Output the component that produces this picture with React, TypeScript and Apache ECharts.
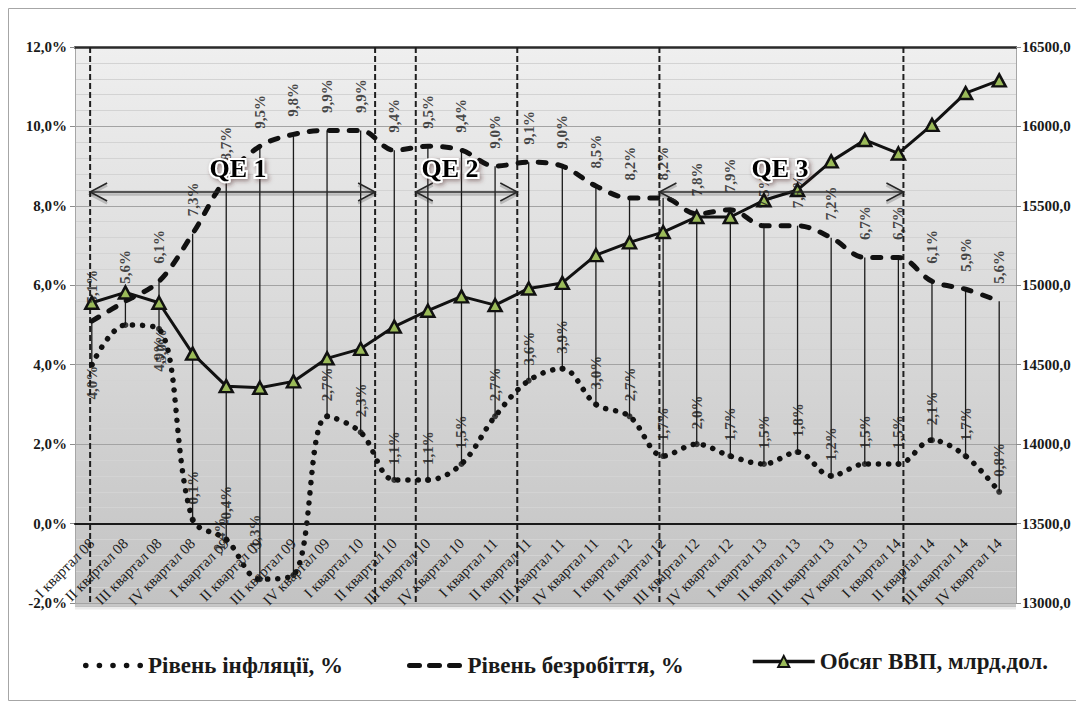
import React, { useEffect, useRef } from 'react';
import * as echarts from 'echarts';

const categories = [
  'I квартал 08', 'II квартал 08', 'III квартал 08', 'IV квартал 08',
  'I квартал 09', 'II квартал 09', 'III квартал 09', 'IV квартал 09',
  'I квартал 10', 'II квартал 10', 'III квартал 10', 'IV квартал 10',
  'I квартал 11', 'II квартал 11', 'III квартал 11', 'IV квартал 11',
  'I квартал 12', 'II квартал 12', 'III квартал 12', 'IV квартал 12',
  'I квартал 13', 'II квартал 13', 'III квартал 13', 'IV квартал 13',
  'I квартал 14', 'II квартал 14', 'III квартал 14', 'IV квартал 14',
];

const inflation = [4.0, 5.0, 4.9, 0.1, -0.4, -1.4, -1.3, 2.7, 2.3, 1.1, 1.1, 1.5, 2.7, 3.6, 3.9, 3.0, 2.7, 1.7, 2.0, 1.7, 1.5, 1.8, 1.2, 1.5, 1.5, 2.1, 1.7, 0.8];
const unemployment = [5.1, 5.6, 6.1, 7.3, 8.7, 9.5, 9.8, 9.9, 9.9, 9.4, 9.5, 9.4, 9.0, 9.1, 9.0, 8.5, 8.2, 8.2, 7.8, 7.9, 7.5, 7.5, 7.2, 6.7, 6.7, 6.1, 5.9, 5.6];
const gdp = [14890, 14955, 14890, 14570, 14365, 14355, 14395, 14540, 14600, 14740, 14840, 14930, 14875, 14980, 15015, 15190, 15270, 15335, 15430, 15430, 15535, 15600, 15780, 15915, 15830, 16010, 16210, 16290];

const seriesNames = ['Рівень інфляції, %', 'Рівень безробіття, %', 'Обсяг ВВП, млрд.дол.'];

// QE programmes (positions in category units along the axis)
const qeNames = ['QE 1', 'QE 2', 'QE 3'];
const qeStart = [0.45, 10.14, 17.39];
const qeEnd = [8.93, 13.16, 24.65];
const qeArrowLevel = 8.35;
const qeLabelX = [4.85, 11.16, 20.98];
const qeLabelLevel = 8.95;

const leftMin = -2, leftMax = 12, leftStep = 2;
const rightMin = 13000, rightMax = 16500, rightStep = 500;

const FONT = 'Liberation Serif';
const BOLD = 'bold';

const fmtPct = (v: number) => v.toFixed(1).replace('.', ',') + '%';
const fmtNum = (v: number) => v.toFixed(1).replace('.', ',');

const dotsIcon = 'path://' + [2.8, 16.4, 30, 43.6, 57.2]
  .map((c) => `M${c - 2.8},3a2.8,2.8 0 1,0 5.6,0a2.8,2.8 0 1,0 -5.6,0Z`).join(' ');
const dashIcon = 'path://M2.5,0h10a2.5,2.5 0 0,1 0,5h-10a2.5,2.5 0 0,1 0,-5Z M22.5,0h10a2.5,2.5 0 0,1 0,5h-10a2.5,2.5 0 0,1 0,-5Z M42.5,0h10a2.5,2.5 0 0,1 0,5h-10a2.5,2.5 0 0,1 0,-5Z';

export default function App() {
  const ref = useRef<HTMLDivElement>(null);

  useEffect(() => {
    if (!ref.current) return;
    const chart = echarts.init(ref.current, undefined, { renderer: 'svg' });

    const below: Record<number, { offset: number[]; distance: number }> = {
      0: { offset: [10, 0], distance: 8 },
      1: { offset: [7, 36], distance: 8 },
      2: { offset: [0, 0], distance: 6 },
    };
    const aboveTweak: Record<number, number[]> = {
      5: [8, -40],
      6: [7, -38],
    };

    const inflationLabelData = inflation.map((v, i) => {
      if (below[i]) {
        return {
          value: v,
          label: { position: 'bottom', align: 'right', distance: below[i].distance, offset: below[i].offset },
        };
      }
      if (aboveTweak[i]) return { value: v, label: { offset: aboveTweak[i] } };
      return { value: v };
    });

    const dataLabel = {
      show: true,
      rotate: 90,
      fontFamily: FONT,
      fontWeight: BOLD,
      fontSize: 15,
      color: '#1a1a1a',
      verticalAlign: 'middle',
    };

    const legendText = { fontFamily: FONT, fontWeight: BOLD, fontSize: 23, color: '#1a1a1a' };

    const qeBoundaries = [...qeStart, ...qeEnd].sort((a, b) => a - b);

    const option: any = {
      animation: false,
      textStyle: { fontFamily: FONT },
      graphic: [
        {
          type: 'rect',
          silent: true,
          shape: { x: 0.5, y: 0.5, width: 1075, height: 692 },
          style: { fill: 'none', stroke: '#a6a6a6', lineWidth: 1 },
        },
      ],
      grid: {
        left: 67,
        right: 68,
        top: 39,
        bottom: 98,
        show: true,
        borderWidth: 0,
        backgroundColor: new echarts.graphic.LinearGradient(0, 0, 0, 1, [
          { offset: 0, color: '#efefef' },
          { offset: 1, color: '#c3c3c3' },
        ]),
      },
      legend: [
        {
          data: [{ name: seriesNames[0], icon: dotsIcon }],
          left: 70, top: 641, itemWidth: 60, itemHeight: 6, itemGap: 0,
          itemStyle: { color: '#111' },
          textStyle: legendText,
        },
        {
          data: [{ name: seriesNames[1], icon: dashIcon }],
          left: 394, top: 641, itemWidth: 56, itemHeight: 5, itemGap: 0,
          itemStyle: { color: '#111' },
          textStyle: legendText,
        },
        {
          data: [seriesNames[2]],
          left: 738, top: 637, itemWidth: 62, itemHeight: 14, itemGap: 0,
          lineStyle: { color: '#111', width: 3.5 },
          textStyle: legendText,
        },
      ],
      xAxis: [
        {
          type: 'category',
          data: categories,
          boundaryGap: true,
          position: 'bottom',
          axisLine: { show: true, lineStyle: { color: '#1a1a1a', width: 2 } },
          axisTick: { show: false },
          axisLabel: {
            interval: 0,
            rotate: 45,
            margin: -62,
            fontFamily: FONT,
            fontSize: 15,
            color: '#1a1a1a',
          },
          splitLine: { show: false },
          z: 10,
        },
        {
          type: 'value',
          min: 0,
          max: categories.length,
          position: 'top',
          axisLine: { show: true, onZero: false, lineStyle: { color: '#2a2a2a', width: 2.5 } },
          axisTick: { show: false },
          axisLabel: { show: false },
          splitLine: { show: false },
        },
      ],
      yAxis: [
        {
          type: 'value',
          min: leftMin,
          max: leftMax,
          interval: leftStep,
          position: 'left',
          axisLine: { show: true, lineStyle: { color: '#a6a6a6', width: 1 } },
          axisTick: { show: true, length: 5, lineStyle: { color: '#8c8c8c' } },
          axisLabel: {
            margin: 8,
            fontFamily: FONT,
            fontWeight: BOLD,
            fontSize: 15,
            color: '#1a1a1a',
            formatter: (v: number) => fmtPct(v),
          },
          splitLine: { show: true, lineStyle: { color: '#a3a3a3', width: 1 } },
          minorTick: { show: false, splitNumber: 5 },
          minorSplitLine: { show: true, lineStyle: { color: '#d3d3d3', width: 1 } },
        },
        {
          type: 'value',
          min: rightMin,
          max: rightMax,
          interval: rightStep,
          position: 'right',
          axisLine: { show: true, lineStyle: { color: '#a6a6a6', width: 1 } },
          axisTick: { show: true, length: 5, lineStyle: { color: '#8c8c8c' } },
          axisLabel: {
            margin: 6,
            fontFamily: FONT,
            fontWeight: BOLD,
            fontSize: 15,
            color: '#1a1a1a',
            formatter: (v: number) => fmtNum(v),
          },
          splitLine: { show: false },
        },
      ],
      series: [
        {
          type: 'custom',
          name: 'axis-shadow',
          xAxisIndex: 1,
          yAxisIndex: 0,
          silent: true,
          z: 0,
          data: [[0, leftMin]],
          renderItem: (params: any, api: any) => {
            const a = api.coord([0, leftMin]);
            const b = api.coord([categories.length, leftMin]);
            return {
              type: 'group',
              children: [
                { type: 'line', shape: { x1: a[0], y1: a[1] + 2.5, x2: b[0], y2: b[1] + 2.5 }, style: { stroke: 'rgba(0,0,0,0.22)', lineWidth: 3 } },
                { type: 'line', shape: { x1: a[0], y1: a[1] + 5, x2: b[0], y2: b[1] + 5 }, style: { stroke: 'rgba(0,0,0,0.08)', lineWidth: 3 } },
              ],
            };
          },
        },
        {
          type: 'custom',
          name: 'qe-bounds',
          xAxisIndex: 1,
          yAxisIndex: 0,
          silent: true,
          z: 1,
          data: qeBoundaries.map((v) => [v, 0]),
          renderItem: (params: any, api: any) => {
            const t = api.coord([api.value(0), leftMax]);
            const b = api.coord([api.value(0), leftMin]);
            return {
              type: 'line',
              shape: { x1: t[0], y1: t[1], x2: b[0], y2: b[1] },
              style: { stroke: '#1f1f1f', lineWidth: 2, lineDash: [6, 3] },
            };
          },
        },
        {
          type: 'custom',
          name: 'hilo',
          xAxisIndex: 0,
          yAxisIndex: 0,
          silent: true,
          z: 2,
          data: categories.map((c, i) => [i, unemployment[i], inflation[i]]),
          renderItem: (params: any, api: any) => {
            const a = api.coord([api.value(0), api.value(1)]);
            const b = api.coord([api.value(0), api.value(2)]);
            return {
              type: 'line',
              shape: { x1: a[0], y1: a[1], x2: b[0], y2: b[1] },
              style: { stroke: '#1a1a1a', lineWidth: 1.3 },
            };
          },
        },
        {
          type: 'line',
          name: seriesNames[0],
          xAxisIndex: 0,
          yAxisIndex: 0,
          data: inflation,
          smooth: 0.35,
          symbol: 'none',
          silent: true,
          z: 3,
          lineStyle: { color: '#111', width: 5.5, type: [0.1, 10], cap: 'round' },
          itemStyle: { color: '#111' },
        },
        {
          type: 'line',
          name: seriesNames[1],
          xAxisIndex: 0,
          yAxisIndex: 0,
          data: unemployment,
          smooth: 0.35,
          symbol: 'none',
          silent: true,
          z: 3,
          lineStyle: { color: '#111', width: 5, type: [8, 12], cap: 'round' },
          itemStyle: { color: '#111' },
        },
        {
          type: 'line',
          name: seriesNames[2],
          xAxisIndex: 0,
          yAxisIndex: 1,
          data: gdp,
          symbol: 'triangle',
          symbolSize: [13, 12],
          silent: true,
          z: 4,
          lineStyle: { color: '#111', width: 3 },
          itemStyle: { color: '#9BBB59', borderColor: '#111', borderWidth: 2.5 },
        },
        {
          type: 'scatter',
          name: 'inflation-labels',
          xAxisIndex: 0,
          yAxisIndex: 0,
          data: inflationLabelData,
          symbol: 'circle',
          symbolSize: 6,
          silent: true,
          z: 5,
          itemStyle: { color: '#111' },
          label: {
            ...dataLabel,
            position: 'top',
            distance: 12,
            align: 'left',
            formatter: (p: any) => fmtPct(p.value),
          },
        },
        {
          type: 'scatter',
          name: 'unemployment-labels',
          xAxisIndex: 0,
          yAxisIndex: 0,
          data: unemployment,
          symbolSize: 1,
          silent: true,
          z: 5,
          itemStyle: { color: 'rgba(0,0,0,0)' },
          label: {
            ...dataLabel,
            position: 'top',
            distance: 17,
            align: 'left',
            formatter: (p: any) => fmtPct(p.value),
          },
        },
        {
          type: 'custom',
          name: 'qe-arrows',
          xAxisIndex: 1,
          yAxisIndex: 0,
          silent: true,
          z: 6,
          data: qeNames.map((n, i) => [qeStart[i], qeEnd[i], qeArrowLevel]),
          renderItem: (params: any, api: any) => {
            const a = api.coord([api.value(0), api.value(2)]);
            const b = api.coord([api.value(1), api.value(2)]);
            const ah = 17, aw = 9;
            const children: any[] = [];
            const add = (dy: number, stroke: string, w: number) => {
              const sa = [a[0], a[1] + dy];
              const sb = [b[0], b[1] + dy];
              children.push(
                { type: 'line', shape: { x1: sa[0], y1: sa[1], x2: sb[0], y2: sb[1] }, style: { stroke, lineWidth: w } },
                { type: 'polyline', shape: { points: [[sa[0] + ah, sa[1] - aw], [sa[0], sa[1]], [sa[0] + ah, sa[1] + aw]] }, style: { stroke, lineWidth: w, fill: 'none' } },
                { type: 'polyline', shape: { points: [[sb[0] - ah, sb[1] - aw], [sb[0], sb[1]], [sb[0] - ah, sb[1] + aw]] }, style: { stroke, lineWidth: w, fill: 'none' } },
              );
            };
            add(2.5, 'rgba(0,0,0,0.18)', 2.5);
            add(0, '#262626', 1.6);
            return { type: 'group', children };
          },
        },
        {
          type: 'custom',
          name: 'qe-labels',
          xAxisIndex: 1,
          yAxisIndex: 0,
          silent: true,
          z: 7,
          data: qeNames.map((n, i) => [qeLabelX[i], qeLabelLevel]),
          renderItem: (params: any, api: any) => {
            const c = api.coord([api.value(0), api.value(1)]);
            return {
              type: 'text',
              x: c[0],
              y: c[1],
              style: {
                text: qeNames[params.dataIndex],
                fontFamily: FONT,
                fontWeight: 'bold',
                fontSize: 26,
                fill: '#000',
                stroke: '#fff',
                lineWidth: 4,
                align: 'center',
                verticalAlign: 'middle',
                textShadowColor: 'rgba(80,40,40,0.5)',
                textShadowBlur: 4,
                textShadowOffsetX: 2,
                textShadowOffsetY: 2,
              },
            };
          },
        },
      ],
    };

    chart.setOption(option);
    return () => chart.dispose();
  }, []);

  return <div ref={ref} style={{ width: 1076, height: 693 }} />;
}
